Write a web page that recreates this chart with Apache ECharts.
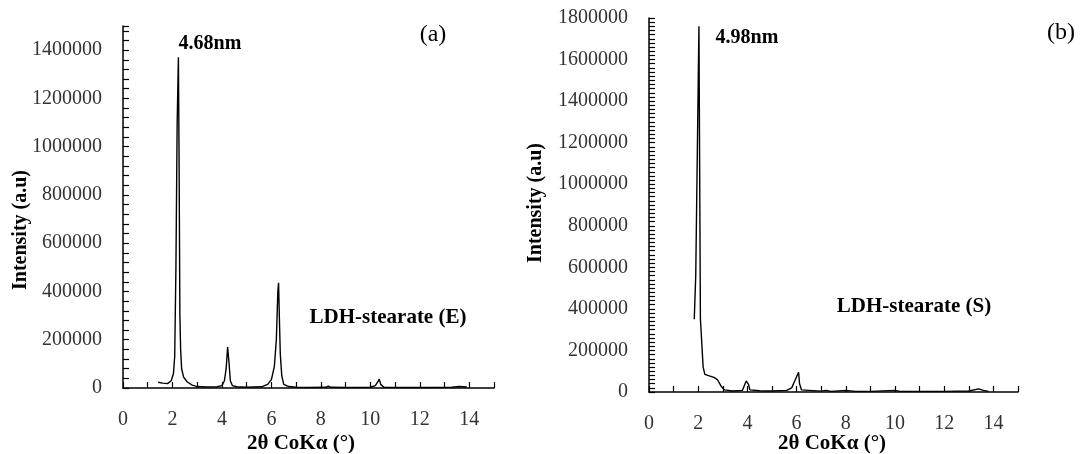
<!DOCTYPE html>
<html>
<head>
<meta charset="utf-8">
<script src="https://cdn.jsdelivr.net/npm/echarts@6/dist/echarts.min.js"></script>
<style>
html,body{margin:0;padding:0;background:#fff;}
#chart{width:1083px;height:454px;}
</style>
</head>
<body>
<div id="chart"></div>
<script>
// Panel (a): LDH-stearate (E)
const xE = [1.42,1.6,1.8,1.95,2.04,2.09,2.14,2.19,2.24,2.27,2.3,2.33,2.37,2.45,2.6,2.8,3.0,3.4,3.8,4.0,4.1,4.17,4.23,4.26,4.29,4.34,4.42,4.6,5.0,5.6,5.85,6.0,6.12,6.2,6.26,6.29,6.32,6.36,6.42,6.5,6.7,7.0,7.5,8.2,8.3,8.4,9.0,10.0,10.2,10.3,10.36,10.42,10.55,11.0,12.0,13.3,13.6,13.9];
const yE = [24000,20000,18000,30000,60000,130000,500000,1100000,1370000,900000,300000,160000,80000,45000,25000,12000,6000,4000,5000,10000,30000,80000,170000,178000,100000,30000,10000,5000,3000,5000,15000,35000,90000,200000,400000,436000,300000,140000,50000,15000,6000,3000,2000,3000,8000,3000,2000,3000,10000,25000,37000,15000,3000,2000,2000,3000,6000,4000];

// Panel (b): LDH-stearate (S)
const xS = [1.84,1.9,2.03,2.09,2.12,2.2,2.27,2.45,2.64,2.78,2.93,3.07,3.4,3.8,3.95,4.05,4.1,4.5,5.0,5.6,5.8,5.95,6.08,6.12,6.2,6.5,7.0,7.2,7.4,8.0,8.4,9.0,10.0,10.2,11.0,12.0,13.0,13.4,13.6,13.8];
const yS = [350000,560000,1760000,350000,290000,120000,85000,78000,70000,60000,28000,10000,5000,8000,53000,35000,10000,6000,5000,8000,20000,60000,95000,40000,10000,8000,4000,8000,3000,8000,3000,3000,8000,3000,3000,3000,5000,15000,8000,3000];

const xTickLabels = ['0','2','4','6','8','10','12','14'];
const yMaxE = 1500000, yMaxS = 1800000, yStep = 200000, xMax = 15;

const serif = '"Liberation Serif", "Times New Roman", serif';

function pairs(xs, ys){ return xs.map((x,i)=>[x, ys[i]]); }

function xAxisCfg(gridIndex){
  return {
    type:'value', gridIndex, min:0, max:xMax, interval:1,
    axisLine:{show:true, onZero:false, lineStyle:{color:'#000', width:1.5}},
    axisTick:{show:true, inside:true, length:6, lineStyle:{color:'#000', width:1.2}},
    splitLine:{show:false},
    axisLabel:{
      margin:22, color:'#333', fontFamily:serif, fontSize:20,
      formatter:v => xTickLabels.includes(String(v)) ? String(v) : ''
    }
  };
}
function yAxisCfg(gridIndex, max, minorSplit){
  return {
    type:'value', gridIndex, min:0, max, interval:yStep,
    axisLine:{show:true, lineStyle:{color:'#000', width:1.5}},
    axisTick:{show:true, inside:true, length:6, lineStyle:{color:'#000', width:1.2}},
    minorTick:{show:true, splitNumber:minorSplit, length:6, lineStyle:{color:'#000', width:1.2}},
    splitLine:{show:false},
    axisLabel:{margin:21, color:'#333', fontFamily:serif, fontSize:20,
      showMaxLabel: max % yStep === 0, formatter:v => String(v)}
  };
}
function txt(text, x, y, font, rot){
  return {type:'text', x, y, rotation: rot || 0,
    style:{text, font, fill:'#000', align:'center', verticalAlign:'middle'}};
}

const chart = echarts.init(document.getElementById('chart'), null, {renderer:'canvas'});
chart.setOption({
  backgroundColor:'#fff',
  animation:false,
  grid:[
    {left:123, top:26, width:371, height:362},
    {left:649, top:18, width:369, height:374}
  ],
  xAxis:[xAxisCfg(0), xAxisCfg(1)],
  yAxis:[yAxisCfg(0, yMaxE, 5), yAxisCfg(1, yMaxS, 10)],
  series:[
    {type:'line', xAxisIndex:0, yAxisIndex:0, data:pairs(xE,yE), showSymbol:false, smooth:false,
     lineStyle:{color:'#000', width:1.4}},
    {type:'line', xAxisIndex:1, yAxisIndex:1, data:pairs(xS,yS), showSymbol:false, smooth:false,
     lineStyle:{color:'#000', width:1.4}}
  ],
  graphic:[
    txt('4.68nm', 210, 44, 'bold 20px ' + serif),
    txt('(a)', 433, 35, '24px ' + serif),
    txt('LDH-stearate (E)', 388, 318, 'bold 21px ' + serif),
    txt('Intensity (a.u)', 21, 230, 'bold 20px ' + serif, Math.PI/2),
    txt('2θ CoKα (°)', 301, 444, 'bold 21px ' + serif),
    txt('4.98nm', 747, 38, 'bold 20px ' + serif),
    txt('(b)', 1061, 33, '24px ' + serif),
    txt('LDH-stearate (S)', 914, 307, 'bold 21px ' + serif),
    txt('Intensity (a.u)', 536, 203, 'bold 20px ' + serif, Math.PI/2),
    txt('2θ CoKα (°)', 832, 444, 'bold 21px ' + serif)
  ]
});
</script>
</body>
</html>
